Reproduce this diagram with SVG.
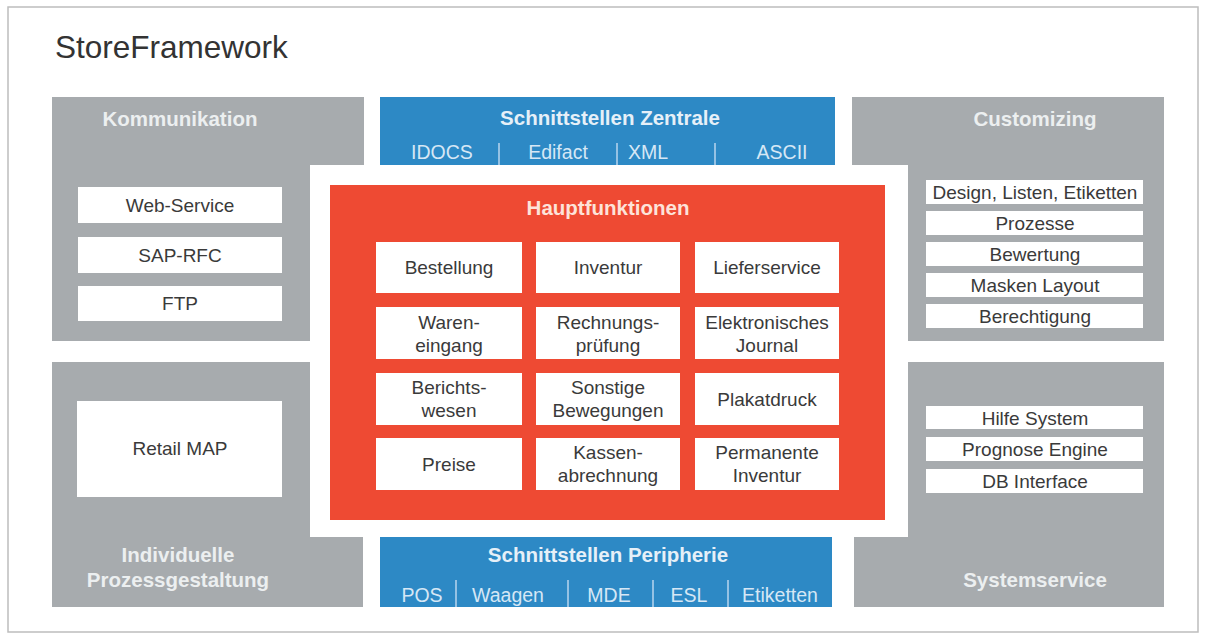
<svg xmlns="http://www.w3.org/2000/svg" width="1206" height="639" viewBox="0 0 1206 639">
<style>
.panel{fill:#a7abae}
.blue{fill:#2d89c5}
.red{fill:#ee4a33}
.box{fill:#ffffff}
.t{font-family:"Liberation Sans",Arial,sans-serif;text-anchor:middle}
.bx{font-size:19px;fill:#3a3a3a}
.ph{font-size:20.5px;font-weight:bold;fill:#eceff0}
.bh{font-size:20.5px;font-weight:bold;fill:#e6f0f8}
.bi{font-size:19.5px;fill:#d6e7f5}
.sep{stroke:#b9d6ee;stroke-width:1.5}
</style>
<rect x="0" y="0" width="1206" height="639" fill="#ffffff"/>
<rect x="8" y="7" width="1190" height="625" fill="#ffffff" stroke="#bdbdbd" stroke-width="1.5"/>
<text x="55" y="58" font-family="'Liberation Sans',Arial,sans-serif" font-size="31.5" fill="#333333">StoreFramework</text>

<g id="kommunikation">
<path class="panel" d="M52,97 H364 V165 H310 V341 H52 Z"/>
<text class="t ph" x="180" y="126">Kommunikation</text>
<rect class="box" x="78" y="187" width="204" height="36"/>
<text class="t bx" x="180" y="212">Web-Service</text>
<rect class="box" x="78" y="237" width="204" height="36"/>
<text class="t bx" x="180" y="262">SAP-RFC</text>
<rect class="box" x="78" y="286" width="204" height="35"/>
<text class="t bx" x="180" y="310">FTP</text>
</g>

<g id="customizing">
<path class="panel" d="M852,97 H1164 V341 H908 V165 H852 Z"/>
<text class="t ph" x="1035" y="126">Customizing</text>
<rect class="box" x="926" y="180" width="217" height="24"/>
<text class="t bx" x="1035" y="199">Design, Listen, Etiketten</text>
<rect class="box" x="926" y="211" width="217" height="24"/>
<text class="t bx" x="1035" y="230">Prozesse</text>
<rect class="box" x="926" y="242" width="217" height="24"/>
<text class="t bx" x="1035" y="261">Bewertung</text>
<rect class="box" x="926" y="273" width="217" height="24"/>
<text class="t bx" x="1035" y="292">Masken Layout</text>
<rect class="box" x="926" y="304" width="217" height="24"/>
<text class="t bx" x="1035" y="323">Berechtigung</text>
</g>

<g id="prozessgestaltung">
<path class="panel" d="M52,362 H310 V537 H363 V607 H52 Z"/>
<rect class="box" x="77" y="401" width="205" height="96"/>
<text class="t bx" x="180" y="455">Retail MAP</text>
<text class="t ph" x="178" y="562">Individuelle</text>
<text class="t ph" x="178" y="587">Prozessgestaltung</text>
</g>

<g id="systemservice">
<path class="panel" d="M908,362 H1164 V607 H854 V537 H908 Z"/>
<rect class="box" x="926" y="406" width="217" height="23"/>
<text class="t bx" x="1035" y="425">Hilfe System</text>
<rect class="box" x="926" y="437" width="217" height="24"/>
<text class="t bx" x="1035" y="456">Prognose Engine</text>
<rect class="box" x="926" y="469" width="217" height="24"/>
<text class="t bx" x="1035" y="488">DB Interface</text>
<text class="t ph" x="1035" y="587">Systemservice</text>
</g>

<g id="schnittstellen-zentrale">
<rect class="blue" x="380" y="97" width="455" height="68"/>
<text class="t bh" x="610" y="125">Schnittstellen Zentrale</text>
<text class="t bi" x="442" y="159">IDOCS</text>
<text class="t bi" x="558" y="159">Edifact</text>
<text class="t bi" x="648" y="159">XML</text>
<text class="t bi" x="782" y="159">ASCII</text>
<line class="sep" x1="499" y1="143" x2="499" y2="165"/>
<line class="sep" x1="617" y1="143" x2="617" y2="165"/>
<line class="sep" x1="715" y1="143" x2="715" y2="165"/>
</g>

<g id="schnittstellen-peripherie">
<rect class="blue" x="380" y="537" width="452" height="70"/>
<text class="t bh" x="608" y="562">Schnittstellen Peripherie</text>
<text class="t bi" x="422" y="602">POS</text>
<text class="t bi" x="508" y="602">Waagen</text>
<text class="t bi" x="609" y="602">MDE</text>
<text class="t bi" x="689" y="602">ESL</text>
<text class="t bi" x="780" y="602">Etiketten</text>
<line class="sep" x1="456" y1="580" x2="456" y2="607"/>
<line class="sep" x1="568" y1="580" x2="568" y2="607"/>
<line class="sep" x1="653" y1="580" x2="653" y2="607"/>
<line class="sep" x1="728" y1="580" x2="728" y2="607"/>
</g>

<g id="hauptfunktionen">
<rect class="red" x="330" y="185" width="555" height="335"/>
<text class="t" x="608" y="215" font-size="20.5" font-weight="bold" fill="#fde3d9">Hauptfunktionen</text>
<rect class="box" x="376" y="242" width="146" height="51"/>
<rect class="box" x="536" y="242" width="144" height="51"/>
<rect class="box" x="695" y="242" width="144" height="51"/>
<rect class="box" x="376" y="307" width="146" height="52"/>
<rect class="box" x="536" y="307" width="144" height="52"/>
<rect class="box" x="695" y="307" width="144" height="52"/>
<rect class="box" x="376" y="373" width="146" height="52"/>
<rect class="box" x="536" y="373" width="144" height="52"/>
<rect class="box" x="695" y="373" width="144" height="52"/>
<rect class="box" x="376" y="438" width="146" height="52"/>
<rect class="box" x="536" y="438" width="144" height="52"/>
<rect class="box" x="695" y="438" width="144" height="52"/>
<text class="t bx" x="449" y="274">Bestellung</text>
<text class="t bx" x="608" y="274">Inventur</text>
<text class="t bx" x="767" y="274">Lieferservice</text>
<text class="t bx" x="449" y="329">Waren-</text>
<text class="t bx" x="449" y="352">eingang</text>
<text class="t bx" x="608" y="329">Rechnungs-</text>
<text class="t bx" x="608" y="352">prüfung</text>
<text class="t bx" x="767" y="329">Elektronisches</text>
<text class="t bx" x="767" y="352">Journal</text>
<text class="t bx" x="449" y="394">Berichts-</text>
<text class="t bx" x="449" y="417">wesen</text>
<text class="t bx" x="608" y="394">Sonstige</text>
<text class="t bx" x="608" y="417">Bewegungen</text>
<text class="t bx" x="767" y="406">Plakatdruck</text>
<text class="t bx" x="449" y="471">Preise</text>
<text class="t bx" x="608" y="459">Kassen-</text>
<text class="t bx" x="608" y="482">abrechnung</text>
<text class="t bx" x="767" y="459">Permanente</text>
<text class="t bx" x="767" y="482">Inventur</text>
</g>
</svg>
